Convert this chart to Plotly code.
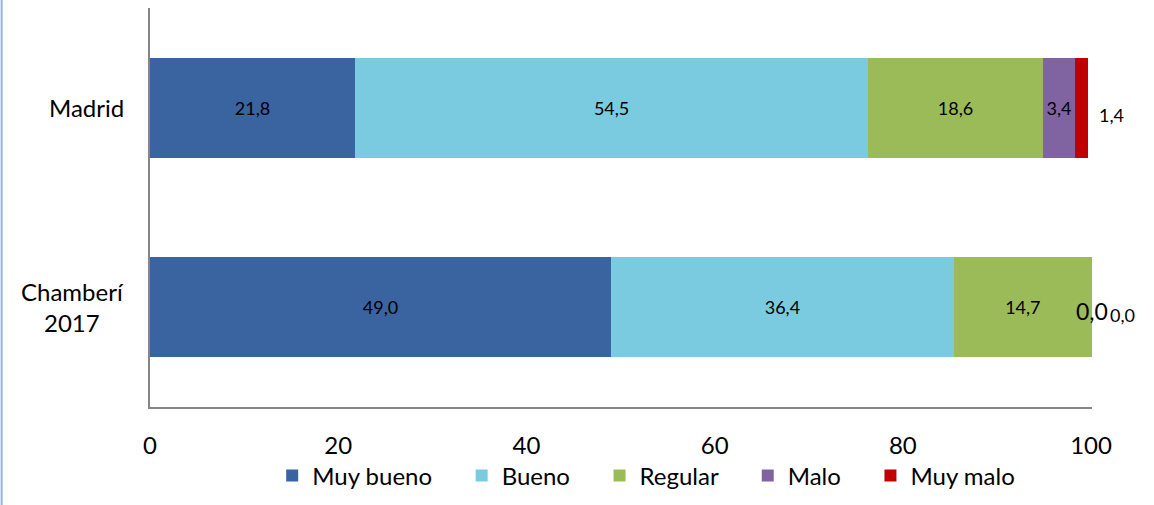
import plotly.graph_objects as go

categorias = ['Chamberí<br>2017', 'Madrid']
series = ['Muy bueno', 'Bueno', 'Regular', 'Malo', 'Muy malo']
valores = {
    'Muy bueno': [49.0, 21.8],
    'Bueno': [36.4, 54.5],
    'Regular': [14.7, 18.6],
    'Malo': [0.0, 3.4],
    'Muy malo': [0.0, 1.4],
}
colores = ['#3A64A0', '#7ACBE0', '#9BBB59', '#8064A2', '#C00000']
ticks_x = [0, 20, 40, 60, 80, 100]

FONT = 'Lato, Open Sans, sans-serif'
PAD = '\u00a0' * 4  # separación extra entre entradas de la leyenda


def fmt(v):
    return f'{v:.1f}'.replace('.', ',')


fig = go.Figure()
for nombre, color in zip(series, colores):
    vals = valores[nombre]
    # etiquetas dentro de la barra solo si hay sitio
    textos = [fmt(v) if v >= 3 else '' for v in vals]
    fig.add_trace(go.Bar(
        y=[0, 1], x=vals, name=nombre + PAD, orientation='h',
        marker=dict(color=color, line=dict(width=0)),
        text=textos, textposition='inside', insidetextanchor='middle',
        textangle=0, constraintext='none',
        textfont=dict(size=18, color='black', family=FONT),
        width=0.5, hovertemplate=nombre + ': %{x}<extra></extra>'))

# etiquetas fuera de la barra (valores pequeños)
acum = [sum(valores[s][i] for s in series) for i in range(2)]
acum_malo = [sum(valores[s][i] for s in series[:4]) for i in range(2)]
anotaciones = [
    dict(x=acum[1], y=1, text=fmt(valores['Muy malo'][1]), xanchor='left', xshift=9,
         yshift=-7, font=dict(size=18)),
    dict(x=acum_malo[0], y=0, text=fmt(valores['Malo'][0]), xanchor='center', xshift=0,
         yshift=-4, font=dict(size=23)),
    dict(x=acum[0], y=0, text=fmt(valores['Muy malo'][0]), xanchor='left', xshift=16,
         yshift=-8, font=dict(size=18)),
]
for a in anotaciones:
    fig.add_annotation(xref='x', yref='y', showarrow=False, **a)

# nombres de categoría centrados
for i, cat in enumerate(categorias):
    fig.add_annotation(xref='paper', yref='y', x=0, y=i, text=cat, showarrow=False,
                       xanchor='right', xshift=-24, align='center',
                       font=dict(size=24, color='black', family=FONT))

# línea del marco a la izquierda
fig.add_shape(type='line', xref='paper', yref='paper', x0=-0.1575, x1=-0.1575,
              y0=-0.25, y1=1.03, line=dict(color='#8EB4E3', width=2))

fig.update_layout(
    barmode='stack', bargap=0.5,
    width=1154, height=505,
    margin=dict(l=150, r=62, t=8, b=97),
    paper_bgcolor='white', plot_bgcolor='white',
    font=dict(family=FONT, size=24, color='black'),
    showlegend=True,
    legend=dict(orientation='h', x=0.54, xanchor='center', y=-0.17, yanchor='middle',
                font=dict(size=24), traceorder='normal', itemwidth=30),
    xaxis=dict(range=[0, 100.1], tickvals=ticks_x, showgrid=False, zeroline=False,
               showline=True, linecolor='#868686', linewidth=2, ticks='',
               ticklabelstandoff=16, tickfont=dict(size=24)),
    yaxis=dict(range=[-0.5, 1.5], showticklabels=False, showgrid=False, zeroline=False,
               showline=True, linecolor='#868686', linewidth=2, ticks=''),
)

fig.write_html('out.html', config={'displayModeBar': False},
               post_script="document.body.style.margin='0';")
